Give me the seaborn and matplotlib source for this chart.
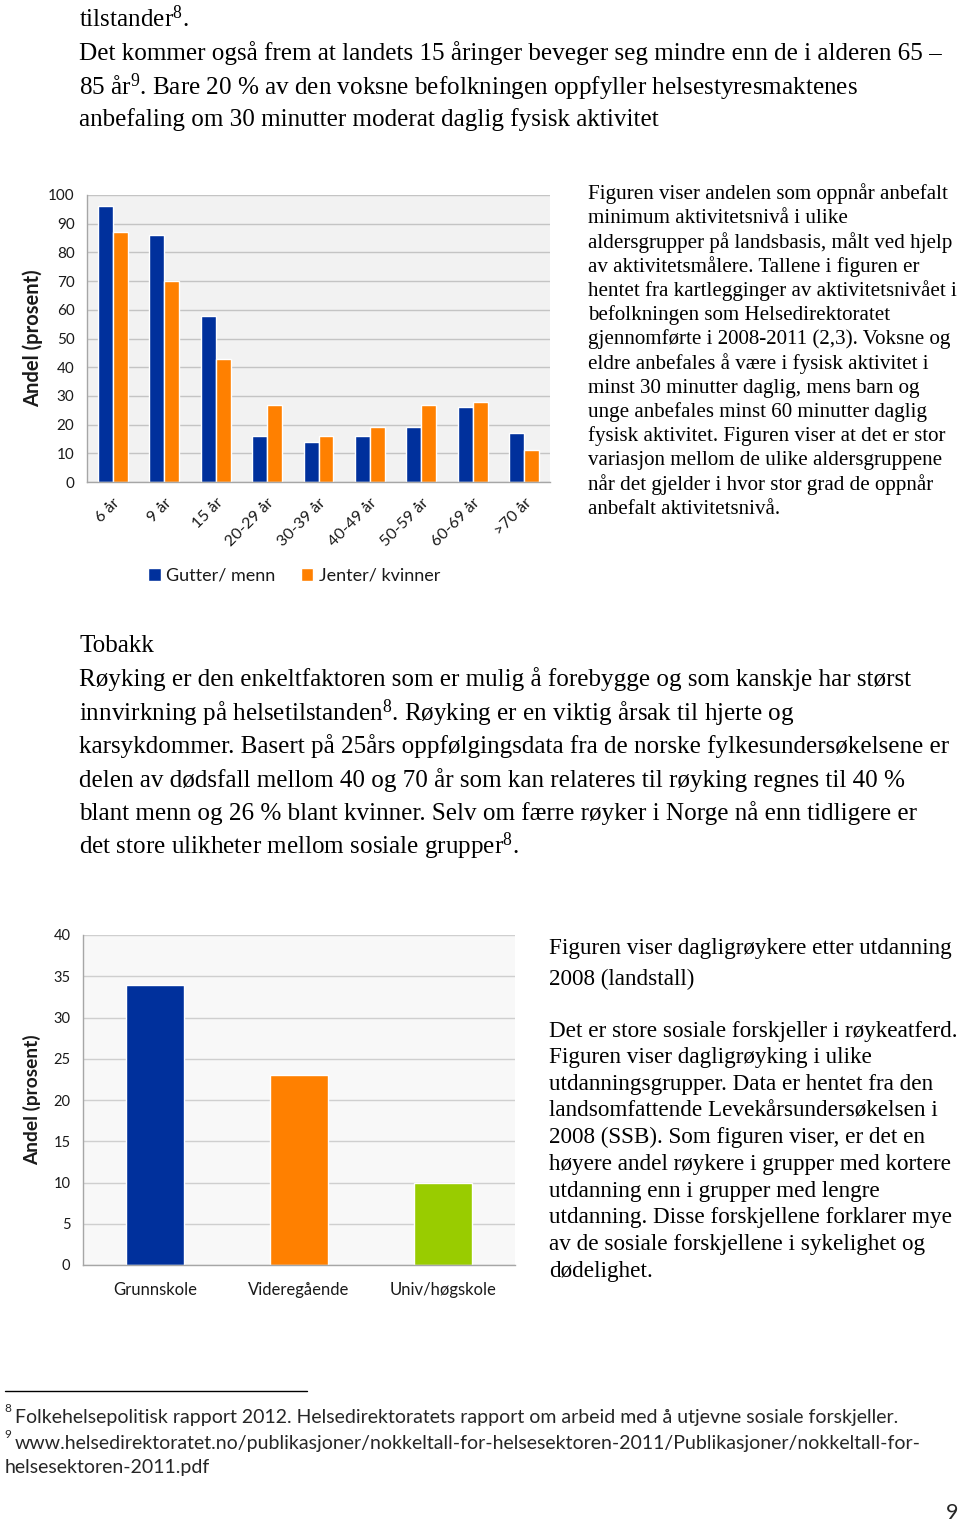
import numpy as np
import pandas as pd
import matplotlib
matplotlib.use("Agg")
import matplotlib.pyplot as plt
import seaborn as sns

# ---------------- data ----------------
age_groups = ["6 år", "9 år", "15 år", "20-29 år", "30-39 år", "40-49 år",
              "50-59 år", "60-69 år", ">70 år"]
boys_men = [96, 86, 58, 16, 14, 16, 19, 26, 17]
girls_women = [87, 70, 43, 27, 16, 19, 27, 28, 11]
series_names = ["Gutter/ menn", "Jenter/ kvinner"]
age_yticks = [0, 10, 20, 30, 40, 50, 60, 70, 80, 90, 100]

edu_groups = ["Grunnskole", "Videregående", "Univ/høgskole"]
daily_smokers = [34, 23, 10]
edu_yticks = [0, 5, 10, 15, 20, 25, 30, 35, 40]

ylabel_text = "Andel (prosent)"

BLUE = "#00309C"
ORANGE = "#FF8000"
GREEN = "#99CC00"

# ---------------- style ----------------
sns.set_style("white")
plt.rcParams["font.family"] = ["Lato", "DejaVu Sans"]
plt.rcParams["mathtext.fontset"] = "custom"
plt.rcParams["mathtext.rm"] = "Liberation Serif"
plt.rcParams["mathtext.it"] = "Liberation Serif:italic"
plt.rcParams["mathtext.bf"] = "Liberation Serif:bold"

W, H = 960, 1523
fig = plt.figure(figsize=(W / 100, H / 100), dpi=100)
fig.patch.set_facecolor("white")


def fx(x):
    return x / W


def fy(y):
    return 1 - y / H


renderer = fig.canvas.get_renderer()
SERIF = ["Liberation Serif", "DejaVu Serif"]
FOOT = ["Lato", "DejaVu Sans"]


def fit_size(s, target, family):
    t = fig.text(0, 0, s, fontsize=20, family=family)
    w = t.get_window_extent(renderer).width
    t.remove()
    return 20 * target / w


def block(x, ys, lines, size, family, color="black"):
    for y, s in zip(ys, lines):
        fig.text(fx(x), fy(y), s, fontsize=size, family=family, color=color,
                 ha="left", va="center")


# ---------------- body text ----------------
body_size = fit_size("Det kommer også frem at landets 15 åringer beveger seg mindre enn de i alderen 65 –", 866, SERIF)

top_lines = [
    r"tilstander$^{8}$.",
    "Det kommer også frem at landets 15 åringer beveger seg mindre enn de i alderen 65 –",
    r"85 år$^{9}$. Bare 20 % av den voksne befolkningen oppfyller helsestyresmaktenes",
    "anbefaling om 30 minutter moderat daglig fysisk aktivitet",
]
block(79, [19, 53, 87, 120], top_lines, body_size, SERIF)

side1_lines = [
    "Figuren viser andelen som oppnår anbefalt",
    "minimum aktivitetsnivå i ulike",
    "aldersgrupper på landsbasis, målt ved hjelp",
    "av aktivitetsmålere. Tallene i figuren er",
    "hentet fra kartlegginger av aktivitetsnivået i",
    "befolkningen som Helsedirektoratet",
    "gjennomførte i 2008-2011 (2,3). Voksne og",
    "eldre anbefales å være i fysisk aktivitet i",
    "minst 30 minutter daglig, mens barn og",
    "unge anbefales minst 60 minutter daglig",
    "fysisk aktivitet. Figuren viser at det er stor",
    "variasjon mellom de ulike aldersgruppene",
    "når det gjelder i hvor stor grad de oppnår",
    "anbefalt aktivitetsnivå.",
]
side1_size = fit_size(side1_lines[0], 359, SERIF)
block(588, [194 + 24.25 * i for i in range(len(side1_lines))], side1_lines, side1_size, SERIF)

tob_lines = [
    "Tobakk",
    "Røyking er den enkeltfaktoren som er mulig å forebygge og som kanskje har størst",
    r"innvirkning på helsetilstanden$^{8}$. Røyking er en viktig årsak til hjerte og",
    "karsykdommer. Basert på 25års oppfølgingsdata fra de norske fylkesundersøkelsene er",
    "delen av dødsfall mellom 40 og 70 år som kan relateres til røyking regnes til 40 %",
    "blant menn og 26 % blant kvinner. Selv om færre røyker i Norge nå enn tidligere er",
    r"det store ulikheter mellom sosiale grupper$^{8}$.",
]
block(79, [646 + 33.4 * i for i in range(len(tob_lines))], tob_lines, body_size, SERIF)

side2_head = ["Figuren viser dagligrøykere etter utdanning", "2008 (landstall)"]
side2_lines = [
    "Det er store sosiale forskjeller i røykeatferd.",
    "Figuren viser dagligrøyking i ulike",
    "utdanningsgrupper. Data er hentet fra den",
    "landsomfattende Levekårsundersøkelsen i",
    "2008 (SSB). Som figuren viser, er det en",
    "høyere andel røykere i grupper med kortere",
    "utdanning enn i grupper med lengre",
    "utdanning. Disse forskjellene forklarer mye",
    "av de sosiale forskjellene i sykelighet og",
    "dødelighet.",
]
side2_size = fit_size(side2_lines[0], 408, SERIF)
block(549, [949, 979], side2_head, side2_size, SERIF)
block(549, [1031 + 26.7 * i for i in range(len(side2_lines))], side2_lines, side2_size, SERIF)

# ---------------- footnotes ----------------
fig.add_artist(plt.Line2D([fx(5), fx(307)], [fy(1391), fy(1391)], color="black", lw=1.0))
foot1 = "Folkehelsepolitisk rapport 2012. Helsedirektoratets rapport om arbeid med å utjevne sosiale forskjeller."
foot_size = fit_size(foot1, 888, FOOT)
fig.text(fx(4), fy(1409), "8", fontsize=foot_size * 0.6, family=FOOT, ha="left", va="center")
fig.text(fx(15), fy(1417), foot1, fontsize=foot_size, family=FOOT, ha="left", va="center")
fig.text(fx(4), fy(1435), "9", fontsize=foot_size * 0.6, family=FOOT, ha="left", va="center")
fig.text(fx(15), fy(1443),
         "www.helsedirektoratet.no/publikasjoner/nokkeltall-for-helsesektoren-2011/Publikasjoner/nokkeltall-for-",
         fontsize=foot_size, family=FOOT, ha="left", va="center")
fig.text(fx(5), fy(1468), "helsesektoren-2011.pdf", fontsize=foot_size, family=FOOT, ha="left", va="center")
fig.text(fx(958), fy(1513), "9", fontsize=foot_size * 1.1, family=FOOT, ha="right", va="center")


def style_axes(ax, bg, grid_color, yticks, ncat):
    ax.set_facecolor(bg)
    ax.set_yticks(yticks)
    ax.set_ylim(yticks[0], yticks[-1])
    ax.set_xlim(-0.5, ncat - 0.5)
    ax.yaxis.grid(True, color=grid_color, lw=1.0)
    ax.xaxis.grid(False)
    ax.set_axisbelow(True)
    for s in ["top", "right"]:
        ax.spines[s].set_visible(False)
    for s in ["left", "bottom"]:
        ax.spines[s].set_visible(True)
        ax.spines[s].set_color("#a6a6a6")
        ax.spines[s].set_linewidth(1.0)
    ax.set_xticks(np.arange(-0.5, ncat + 0.5, 1), minor=True)
    ax.tick_params(axis="x", which="major", length=0, pad=6)
    ax.tick_params(axis="x", which="minor", length=6, color="#a6a6a6", direction="out")
    ax.tick_params(axis="y", which="major", length=5, color="#a6a6a6", direction="out",
                   labelcolor="#1a1a1a", pad=4)
    ax.set_xlabel("")


# ---------------- chart 1 ----------------
df1 = pd.DataFrame({
    "Aldersgruppe": age_groups * 2,
    "Andel": boys_men + girls_women,
    "Kjønn": [series_names[0]] * len(age_groups) + [series_names[1]] * len(age_groups),
})
ax1 = fig.add_axes([fx(87), fy(482), fx(550) - fx(87), fy(195) - fy(482)])
sns.barplot(data=df1, x="Aldersgruppe", y="Andel", hue="Kjønn", order=age_groups,
            hue_order=series_names, palette=[BLUE, ORANGE], width=0.58, gap=0,
            saturation=1, ax=ax1, legend=True)
style_axes(ax1, "#f2f2f2", "#c4c4c4", age_yticks, len(age_groups))
ax1.tick_params(axis="y", labelsize=11)
ax1.set_xticks(range(len(age_groups)))
ax1.set_xticklabels(age_groups, rotation=45, ha="right", rotation_mode="anchor",
                    fontsize=11.5, color="#1a1a1a")
ax1.tick_params(axis="x", which="major", pad=10)
ax1.set_ylabel(ylabel_text, fontsize=14.5, fontweight="bold", color="#1a1a1a")
ax1.yaxis.set_label_coords(-0.095, 0.5)
handles, labels = ax1.get_legend_handles_labels()
ax1.get_legend().remove()
fig.legend(handles, labels, loc="center left", bbox_to_anchor=(fx(132), fy(576)),
           ncol=2, frameon=False, fontsize=13, handlelength=0.7, handleheight=0.7,
           handletextpad=0.3, columnspacing=1.4, labelcolor="#1a1a1a")

# ---------------- chart 2 ----------------
df2 = pd.DataFrame({"Utdanning": edu_groups, "Andel": daily_smokers})
ax2 = fig.add_axes([fx(83), fy(1265), fx(515) - fx(83), fy(935) - fy(1265)])
sns.barplot(data=df2, x="Utdanning", y="Andel", hue="Utdanning", order=edu_groups,
            hue_order=edu_groups, palette=[BLUE, ORANGE, GREEN], width=0.4,
            saturation=1, ax=ax2, legend=False)
style_axes(ax2, "#f8f8f8", "#cfcfcf", edu_yticks, len(edu_groups))
ax2.tick_params(axis="y", labelsize=10.5)
ax2.set_xticks(range(len(edu_groups)))
ax2.set_xticklabels(edu_groups, fontsize=12, color="#1a1a1a")
ax2.tick_params(axis="x", which="major", pad=12)
ax2.set_ylabel(ylabel_text, fontsize=13.8, fontweight="bold", color="#1a1a1a")
ax2.yaxis.set_label_coords(-0.098, 0.5)

fig.savefig("out.png", dpi=100)
